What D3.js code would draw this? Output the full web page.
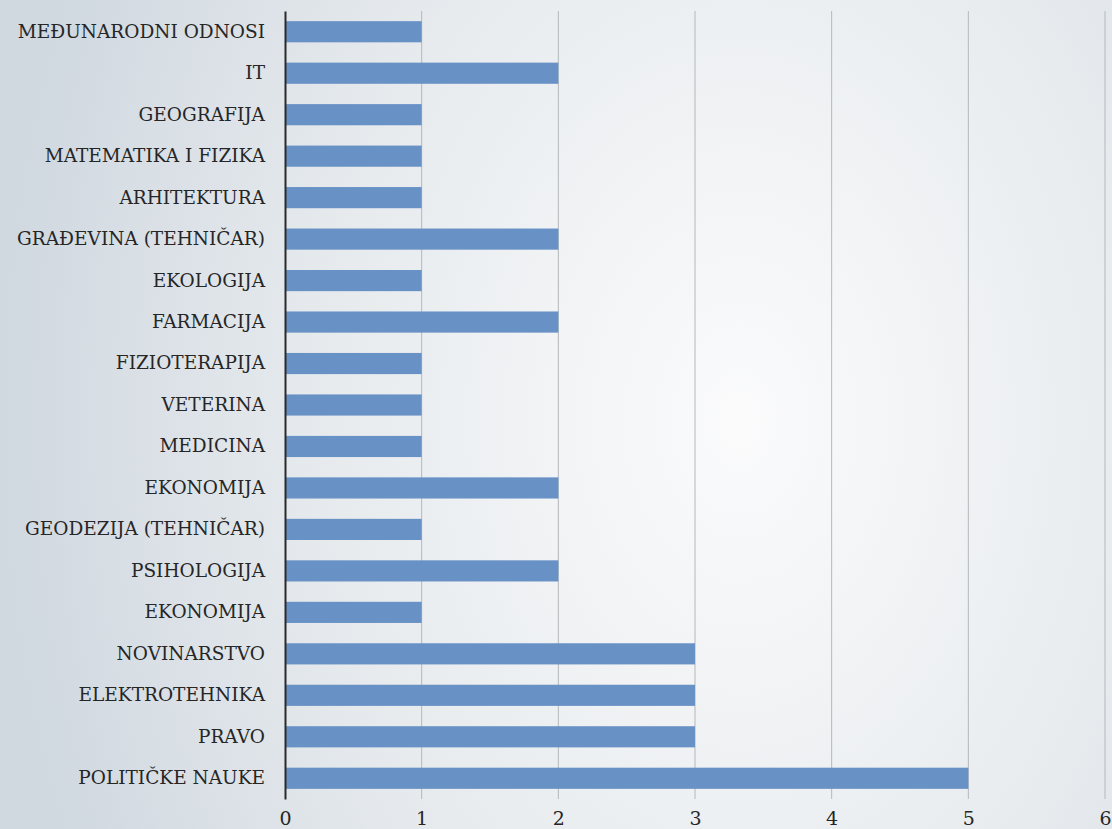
<!DOCTYPE html>
<html>
<head>
<meta charset="utf-8">
<script src="https://cdn.jsdelivr.net/npm/d3@7"></script>
<style>
  html, body { margin: 0; padding: 0; }
  svg { display: block; }
  svg text { font-family: "DejaVu Serif", "Liberation Serif", serif; }
</style>
</head>
<body>
<svg id="chart" width="1112" height="829"></svg>
<script>
// categories, top to bottom
const categories = [
  "MEĐUNARODNI ODNOSI", "IT", "GEOGRAFIJA", "MATEMATIKA I FIZIKA", "ARHITEKTURA",
  "GRAĐEVINA (TEHNIČAR)", "EKOLOGIJA", "FARMACIJA", "FIZIOTERAPIJA", "VETERINA",
  "MEDICINA", "EKONOMIJA", "GEODEZIJA (TEHNIČAR)", "PSIHOLOGIJA", "EKONOMIJA ",
  "NOVINARSTVO", "ELEKTROTEHNIKA", "PRAVO", "POLITIČKE NAUKE"
];
const values = [1, 2, 1, 1, 1, 2, 1, 2, 1, 1, 1, 2, 1, 2, 1, 3, 3, 3, 5];
const xTicks = [0, 1, 2, 3, 4, 5, 6];

const width = 1112, height = 829;
const margin = { top: 11, right: 7, bottom: 30, left: 285 };

const svg = d3.select("#chart");

// background gradient
const defs = svg.append("defs");
const grad = defs.append("radialGradient")
  .attr("id", "bg")
  .attr("gradientUnits", "userSpaceOnUse")
  .attr("cx", 740).attr("cy", 420).attr("r", 740)
  .attr("gradientTransform", "translate(740,420) scale(1,1.4) translate(-740,-420)");
grad.append("stop").attr("offset", "0%").attr("stop-color", "#fbfbfc");
grad.append("stop").attr("offset", "55%").attr("stop-color", "#e7ebee");
grad.append("stop").attr("offset", "100%").attr("stop-color", "#d0d8e0");
svg.append("rect").attr("width", width).attr("height", height).attr("fill", "url(#bg)");

const x = d3.scaleLinear().domain([0, 6]).range([margin.left, width - margin.right]);
const y = d3.scaleBand().domain(categories)
  .range([margin.top, height - margin.bottom]).paddingInner(0.49).paddingOuter(0.245);

// gridlines
svg.append("g")
  .selectAll("line")
  .data(xTicks.slice(1))
  .join("line")
  .attr("x1", d => x(d)).attr("x2", d => x(d))
  .attr("y1", margin.top).attr("y2", height - margin.bottom)
  .attr("stroke", "#b4b8bc").attr("stroke-width", 1);

// bars
svg.append("g")
  .selectAll("rect")
  .data(categories.map((c, i) => ({ c, v: values[i] })))
  .join("rect")
  .attr("x", x(0))
  .attr("y", d => y(d.c))
  .attr("width", d => x(d.v) - x(0))
  .attr("height", y.bandwidth())
  .attr("fill", "#6891c6");

// y axis
const yAxis = svg.append("g")
  .attr("transform", `translate(${margin.left},0)`)
  .call(d3.axisLeft(y).tickSize(0).tickPadding(20));
yAxis.attr("font-family", null);
yAxis.select(".domain").attr("stroke", "#2a2a2a").attr("stroke-width", 2);
yAxis.selectAll("text")
  .attr("font-size", 18.5).attr("fill", "#262626");

// x axis labels
const xAxis = svg.append("g")
  .attr("transform", `translate(0,${height - margin.bottom})`)
  .call(d3.axisBottom(x).tickValues(xTicks).tickSize(0).tickPadding(13).tickFormat(d3.format("d")));
xAxis.attr("font-family", null);
xAxis.select(".domain").remove();
xAxis.selectAll("text")
  .attr("font-size", 19).attr("fill", "#262626");
</script>
</body>
</html>
